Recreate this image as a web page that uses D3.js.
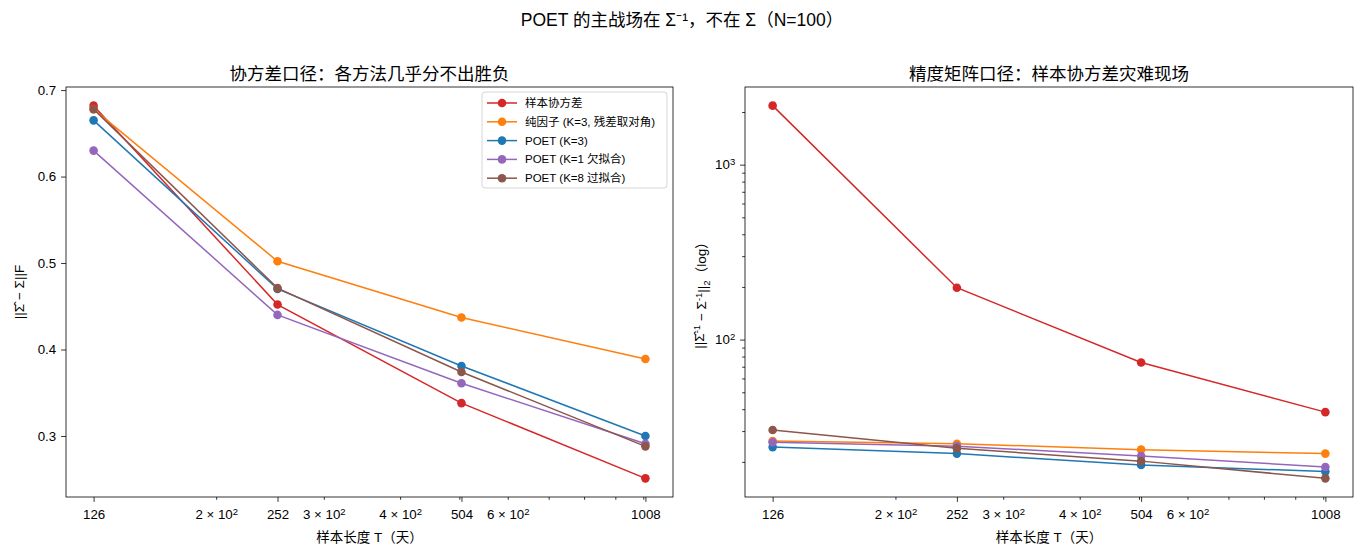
<!DOCTYPE html>
<html>
<head>
<meta charset="utf-8">
<script src="https://cdn.jsdelivr.net/npm/d3@7"></script>
<style>
  body { margin: 0; background: #fff; }
  svg text { font-family: "Liberation Sans", "Noto Sans CJK SC", sans-serif; fill: #000; }
</style>
</head>
<body>
<svg id="chart" width="1364" height="555"></svg>
<script>
// sample lengths (days)
const sampleT = [126, 252, 504, 1008];

// series names, in legend order
const seriesNames = ["样本协方差", "纯因子 (K=3, 残差取对角)", "POET (K=3)", "POET (K=1 欠拟合)", "POET (K=8 过拟合)"];
const seriesColors = ["#d62728", "#ff7f0e", "#1f77b4", "#9467bd", "#8c564b"];

// left panel: ||Sigma_hat - Sigma||_F
const covSample = [0.682, 0.452, 0.338, 0.251];
const covFactor = [0.678, 0.502, 0.437, 0.389];
const covPoet3 = [0.665, 0.470, 0.381, 0.300];
const covPoet1 = [0.630, 0.440, 0.361, 0.291];
const covPoet8 = [0.678, 0.471, 0.374, 0.288];

// right panel: ||Sigma_hat^-1 - Sigma^-1||_2 (log)
const precSample = [2175, 198, 74, 38.5];
const precFactor = [26.3, 25.4, 23.5, 22.3];
const precPoet3 = [24.3, 22.3, 19.2, 17.6];
const precPoet1 = [25.9, 24.6, 21.6, 18.7];
const precPoet8 = [30.4, 23.9, 20.2, 16.1];

const xMinor = [200, 300, 400, 500, 600, 700, 800, 900, 1000];
// mantissa of the labelled minor ticks (m × 10^2)
const xMinorLabels = { 200: 2, 300: 3, 400: 4, 600: 6 };

const svg = d3.select("#chart");
const plotTop = 87, plotBottom = 497;
const majorLen = 4.9, minorLen = 2.8, tickPad = 4.9;
const panels = [
  { left: 66, right: 673, data: [covSample, covFactor, covPoet3, covPoet1, covPoet8], log: false,
    title: "协方差口径：各方法几乎分不出胜负" },
  { left: 745, right: 1353, data: [precSample, precFactor, precPoet3, precPoet1, precPoet8], log: true,
    title: "精度矩阵口径：样本协方差灾难现场" }
];

// matplotlib-style 5% margins
function padLinear(vals) {
  const [a, b] = d3.extent(vals), r = b - a;
  return [a - 0.05 * r, b + 0.05 * r];
}
function padLog(vals) {
  const [a, b] = d3.extent(vals).map(Math.log10), r = b - a;
  return [Math.pow(10, a - 0.05 * r), Math.pow(10, b + 0.05 * r)];
}

// write "base" + superscript "exp" into a text node
function sciText(sel, base, exp) {
  sel.text(null);
  sel.append("tspan").text(base);
  sel.append("tspan").attr("dy", "-0.45em").style("font-size", "9.5px").text(exp);
}

svg.append("text")
  .attr("x", 682).attr("y", 26)
  .attr("text-anchor", "middle")
  .style("font-size", "17.5px")
  .text("POET 的主战场在 Σ⁻¹，不在 Σ（N=100）");

panels.forEach((p, pi) => {
  const g = svg.append("g");
  const x = d3.scaleLog().domain(padLog(sampleT)).range([p.left, p.right]);
  const allVals = p.data.flat();
  const y = (p.log ? d3.scaleLog().domain(padLog(allVals)) : d3.scaleLinear().domain(padLinear(allVals)))
    .range([plotBottom, plotTop]);

  // x axis: major ticks at the sample lengths
  const xAxis = g.append("g").attr("transform", `translate(0,${plotBottom})`)
    .call(d3.axisBottom(x).tickValues(sampleT).tickFormat(d3.format("d")).tickSize(majorLen).tickPadding(tickPad));
  const xMinorAxis = g.append("g").attr("transform", `translate(0,${plotBottom})`)
    .call(d3.axisBottom(x).tickValues(xMinor).tickFormat("").tickSize(minorLen).tickPadding(tickPad + 2.1));
  [xAxis, xMinorAxis].forEach(a => {
    a.select(".domain").remove();
    a.selectAll("text").style("font-size", "13.3px").attr("dy", "0.95em");
  });
  xMinorAxis.selectAll("text").each(function (d) {
    if (xMinorLabels[d]) sciText(d3.select(this), xMinorLabels[d] + " × 10", "2");
  });

  // y axis
  let yAxis;
  if (p.log) {
    yAxis = g.append("g").attr("transform", `translate(${p.left},0)`)
      .call(d3.axisLeft(y).tickValues([100, 1000]).tickFormat("").tickSize(majorLen).tickPadding(tickPad));
    yAxis.selectAll("text").each(function (d) {
      sciText(d3.select(this), "10", d === 100 ? "2" : "3");
    });
    const minor = [];
    [10, 100, 1000].forEach(b => { for (let k = 2; k <= 9; k++) minor.push(b * k); });
    const yd = y.domain();
    const yMinorAxis = g.append("g").attr("transform", `translate(${p.left},0)`)
      .call(d3.axisLeft(y).tickValues(minor.filter(v => v >= yd[0] && v <= yd[1])).tickFormat("").tickSize(minorLen));
    yMinorAxis.select(".domain").remove();
  } else {
    yAxis = g.append("g").attr("transform", `translate(${p.left},0)`)
      .call(d3.axisLeft(y).tickValues([0.3, 0.4, 0.5, 0.6, 0.7]).tickFormat(d3.format(".1f")).tickSize(majorLen).tickPadding(tickPad));
  }
  yAxis.select(".domain").remove();
  yAxis.selectAll("text").style("font-size", "13.3px");
  g.selectAll(".tick line").attr("stroke", "#000").attr("stroke-width", 0.8);

  // frame
  g.append("rect")
    .attr("x", p.left).attr("y", plotTop)
    .attr("width", p.right - p.left).attr("height", plotBottom - plotTop)
    .attr("fill", "none").attr("stroke", "#000").attr("stroke-width", 0.8);

  // series
  const line = d3.line().x((d, i) => x(sampleT[i])).y(d => y(d));
  p.data.forEach((vals, si) => {
    g.append("path").datum(vals)
      .attr("d", line)
      .attr("fill", "none")
      .attr("stroke", seriesColors[si])
      .attr("stroke-width", 1.5);
    g.selectAll(null).data(vals).join("circle")
      .attr("cx", (d, i) => x(sampleT[i]))
      .attr("cy", d => y(d))
      .attr("r", 4.3)
      .attr("fill", seriesColors[si]);
  });

  // titles
  const cx = (p.left + p.right) / 2;
  g.append("text").attr("x", cx).attr("y", 80).attr("text-anchor", "middle")
    .style("font-size", "17.5px").text(p.title);
  g.append("text").attr("x", cx).attr("y", 542).attr("text-anchor", "middle")
    .style("font-size", "13.5px").text("样本长度 T（天）");
});

// y labels
const yl1 = svg.append("text")
  .attr("transform", "translate(24,292) rotate(-90)")
  .attr("text-anchor", "middle")
  .style("font-size", "13.5px");
yl1.text("||Σ̂ − Σ||F");

const yl2 = svg.append("text")
  .attr("transform", "translate(704,292) rotate(-90)")
  .attr("text-anchor", "middle")
  .style("font-size", "13.5px");
yl2.append("tspan").text("||Σ̂");
yl2.append("tspan").attr("dy", "-0.4em").style("font-size", "9.5px").text("-1");
yl2.append("tspan").attr("dy", "0.4em").text(" − Σ");
yl2.append("tspan").attr("dy", "-0.4em").style("font-size", "9.5px").text("-1");
yl2.append("tspan").attr("dy", "0.4em").text("||");
yl2.append("tspan").attr("dy", "0.3em").style("font-size", "9.5px").text("2");
yl2.append("tspan").attr("dy", "-0.3em").text("（log）");

// legend (left panel, upper right)
const lg = svg.append("g").attr("transform", "translate(482,92)");
lg.append("rect")
  .attr("width", 185).attr("height", 96).attr("rx", 3)
  .attr("fill", "#fff").attr("fill-opacity", 0.8)
  .attr("stroke", "#ccc").attr("stroke-width", 0.8);
seriesNames.forEach((name, i) => {
  const row = lg.append("g").attr("transform", `translate(0,${11 + i * 18.8})`);
  row.append("line").attr("x1", 5).attr("x2", 35)
    .attr("stroke", seriesColors[i]).attr("stroke-width", 1.5);
  row.append("circle").attr("cx", 20).attr("r", 4.3).attr("fill", seriesColors[i]);
  row.append("text").attr("x", 43).attr("y", 4).style("font-size", "11.5px").text(name);
});
</script>
</body>
</html>
